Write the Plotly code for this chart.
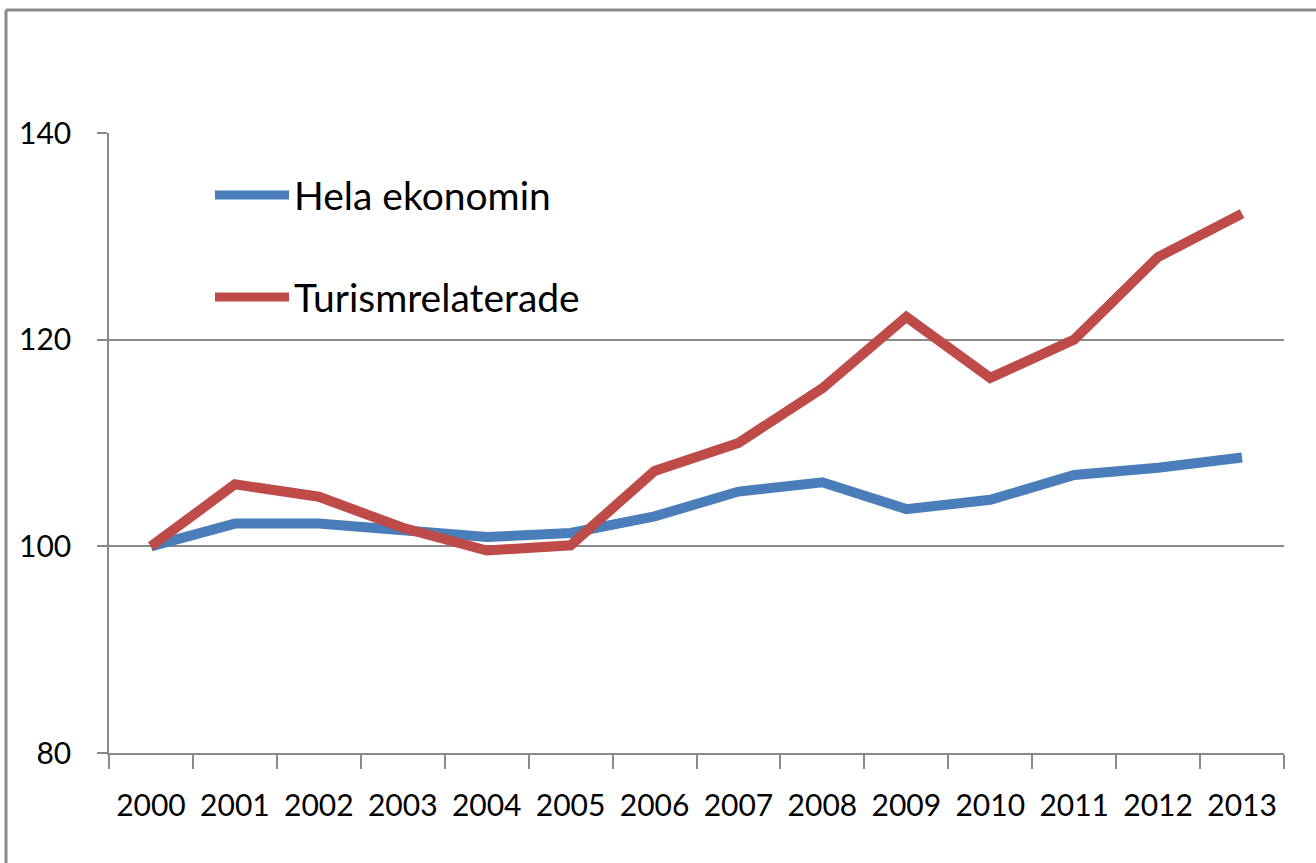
import plotly.graph_objects as go

years = ["2000", "2001", "2002", "2003", "2004", "2005", "2006",
         "2007", "2008", "2009", "2010", "2011", "2012", "2013"]
hela_ekonomin = [100.0, 102.2, 102.2, 101.5, 100.9, 101.3, 102.9,
                 105.3, 106.2, 103.6, 104.5, 106.9, 107.6, 108.6]
turismrelaterade = [100.0, 106.0, 104.8, 101.8, 99.6, 100.1, 107.3,
                    110.0, 115.3, 122.2, 116.3, 120.0, 128.0, 132.2]
series_names = ["Hela ekonomin", "Turismrelaterade"]
y_ticks = [80, 100, 120, 140]

BLUE = "#4A7EBB"
RED = "#BE4B48"
GRID = "#898989"
FONT = "Lato"

fig = go.Figure()
fig.add_trace(go.Scatter(x=years, y=hela_ekonomin, mode="lines", name=series_names[0],
                         line=dict(color=BLUE, width=10)))
fig.add_trace(go.Scatter(x=years, y=turismrelaterade, mode="lines", name=series_names[1],
                         line=dict(color=RED, width=10)))

W, H = 1316, 863
L, R, T, B = 109, 32, 133, 110
pw, ph = W - L - R, H - T - B

def px(x):
    return (x - L) / pw

def py(y):
    return (H - B - y) / ph

shapes = []
annotations = []
# legend
for name, color, ypix in [(series_names[0], BLUE, 195), (series_names[1], RED, 297)]:
    shapes.append(dict(type="line", xref="paper", yref="paper",
                       x0=px(215), x1=px(289), y0=py(ypix), y1=py(ypix),
                       line=dict(color=color, width=9)))
    annotations.append(dict(xref="paper", yref="paper", x=px(292), y=py(ypix),
                            text=name, showarrow=False, xanchor="left", yanchor="middle",
                            font=dict(family=FONT, size=39, color="#000000")))
# outer border (top and left visible)
shapes.append(dict(type="line", xref="paper", yref="paper",
                   x0=px(6), x1=px(1320), y0=py(10), y1=py(10),
                   line=dict(color=GRID, width=3)))
shapes.append(dict(type="line", xref="paper", yref="paper",
                   x0=px(6), x1=px(6), y0=py(10), y1=py(870),
                   line=dict(color=GRID, width=3)))

fig.update_layout(
    width=W, height=H,
    margin=dict(l=L, r=R, t=T, b=B),
    paper_bgcolor="white", plot_bgcolor="white",
    showlegend=False,
    shapes=shapes, annotations=annotations,
    font=dict(family=FONT, size=30, color="#000000"),
    xaxis=dict(type="category", tickson="boundaries", showgrid=False,
               range=[-0.5, len(years) - 0.5],
               showline=True, linecolor=GRID, linewidth=1.5,
               ticks="outside", ticklen=14, tickcolor=GRID, tickwidth=1.5,
               ticklabelstandoff=25,
               tickfont=dict(family=FONT, size=30, color="#000000")),
    yaxis=dict(range=[80, 140], tickvals=y_ticks, showgrid=True, gridcolor=GRID, gridwidth=1.5,
               showline=True, linecolor=GRID, linewidth=1.5, zeroline=False,
               ticks="outside", ticklen=10, tickcolor=GRID, tickwidth=1.5,
               ticklabelstandoff=20,
               tickfont=dict(family=FONT, size=30, color="#000000")),
)

post = ("document.body.style.margin='0px';"
        "document.body.style.overflow='hidden';"
        "Plotly.Plots.resize(document.getElementById('{plot_id}'));")
fig.write_html("out.html", post_script=post, config={"displayModeBar": False})
